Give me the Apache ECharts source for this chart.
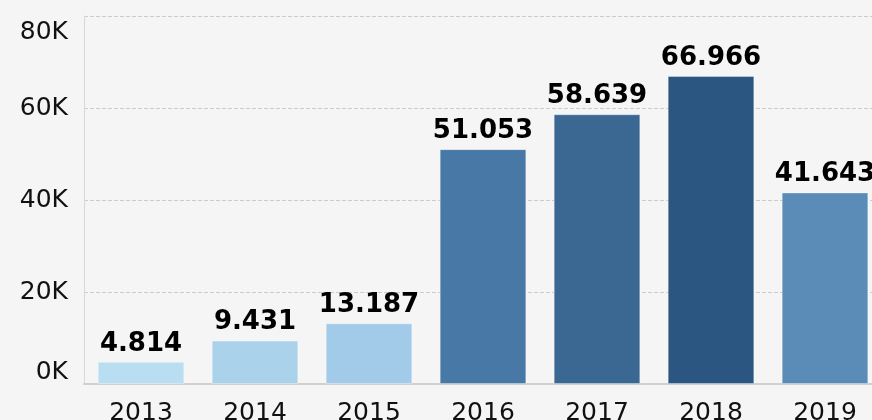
<!DOCTYPE html>
<html>
<head>
<meta charset="utf-8">
<script src="https://cdn.jsdelivr.net/npm/echarts@6/dist/echarts.min.js"></script>
<style>
  html, body { margin: 0; padding: 0; background: #f5f5f5; }
  #chart { width: 872px; height: 420px; }
</style>
</head>
<body>
<div id="chart"></div>
<script>
// years and totals (labels shown with a dot as thousands separator)
var years = ['2013', '2014', '2015', '2016', '2017', '2018', '2019'];
var totals = [4814, 9431, 13187, 51053, 58639, 66966, 41643];
var barColors = ['#badef1', '#aad2eb', '#a1cbe8', '#4878a6', '#3b6893', '#2c5682', '#5b8cb8'];
var yTicks = [0, 20000, 40000, 60000, 80000];

var chart = echarts.init(document.getElementById('chart'));

var fontFam = '"DejaVu Sans", Verdana, sans-serif';

var option = {
  backgroundColor: '#f5f5f5',
  animation: false,
  grid: {
    left: 84,
    width: 798,
    top: 16,
    bottom: 36,
    outerBoundsMode: 'none',
    containLabel: false
  },
  xAxis: {
    type: 'category',
    data: years,
    axisLine: { lineStyle: { color: '#d0d0d0', width: 2 } },
    axisTick: { show: false },
    axisLabel: {
      color: '#111',
      fontFamily: fontFam,
      fontSize: 25,
      margin: 17,
      interval: 0
    }
  },
  yAxis: {
    type: 'value',
    min: yTicks[0],
    max: yTicks[yTicks.length - 1],
    interval: 20000,
    axisLine: { show: true, lineStyle: { color: '#d8d8d8', width: 1 } },
    axisTick: { show: false },
    splitLine: { lineStyle: { color: '#cccccc', type: 'dashed' } },
    axisLabel: {
      color: '#111',
      fontFamily: fontFam,
      fontSize: 25,
      margin: 16,
      // first and last labels are nudged inside the plot, as in the source
      formatter: function (v) {
        var t = (v / 1000) + 'K';
        if (v === yTicks[0]) return '{lo|' + t + '}';
        if (v === yTicks[yTicks.length - 1]) return '{hi|' + t + '}';
        return t;
      },
      rich: {
        lo: { fontFamily: fontFam, fontSize: 25, color: '#111', padding: [0, 0, 24, 0] },
        hi: { fontFamily: fontFam, fontSize: 25, color: '#111', padding: [32, 0, 0, 0] }
      }
    }
  },
  series: [{
    type: 'bar',
    barCategoryGap: '24%',
    data: totals.map(function (v, i) {
      return { value: v, itemStyle: { color: barColors[i] } };
    }),
    itemStyle: {
      borderColor: 'rgba(255,255,255,0.35)',
      borderWidth: 1
    },
    label: {
      show: true,
      position: 'top',
      distance: 5,
      color: '#000',
      fontFamily: fontFam,
      fontWeight: 'bold',
      fontSize: 26,
      formatter: function (p) {
        return String(p.value).replace(/\B(?=(\d{3})+(?!\d))/g, '.');
      }
    }
  }]
};

chart.setOption(option);
</script>
</body>
</html>
